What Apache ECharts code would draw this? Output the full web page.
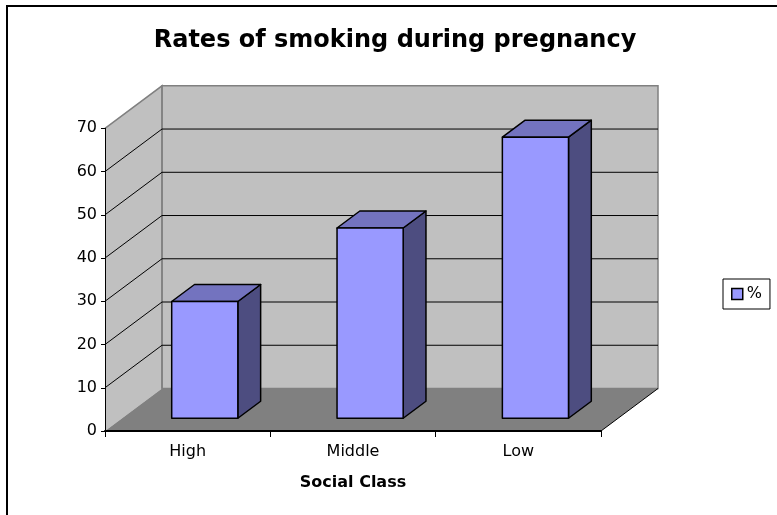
<!DOCTYPE html>
<html>
<head>
<meta charset="utf-8">
<script src="https://cdn.jsdelivr.net/npm/echarts@6/dist/echarts.min.js"></script>
<style>
  body { margin: 0; background: #fff; }
  #chart { width: 777px; height: 515px; }
</style>
</head>
<body>
<div id="chart"></div>
<script>
  // data
  const categories = ['High', 'Middle', 'Low']
  const rates = [27, 44, 65]
  const gridValues = [10, 20, 30, 40, 50, 60, 70]

  // 3d look (oblique projection)
  const DX = 57
  const DY = -42.5
  const FONT = 'DejaVu Sans'

  function renderWalls(params, api) {
    const cs = params.coordSys
    const x0 = cs.x
    const x1 = cs.x + cs.width
    const yb = api.coord([0, 0])[1]
    const yt = api.coord([0, 70])[1]
    const children = [
      {
        type: 'polygon',
        shape: { points: [[x0, yb], [x0, yt], [x0 + DX, yt + DY], [x0 + DX, yb + DY]] },
        style: { fill: '#c0c0c0', stroke: null }
      },
      {
        type: 'polygon',
        shape: { points: [[x0 + DX, yt + DY], [x1 + DX, yt + DY], [x1 + DX, yb + DY], [x0 + DX, yb + DY]] },
        style: { fill: '#c0c0c0', stroke: '#808080', lineWidth: 1.5 }
      },
      {
        type: 'polygon',
        shape: { points: [[x0, yb], [x0 + DX, yb + DY], [x1 + DX, yb + DY], [x1, yb]] },
        style: { fill: '#808080', stroke: null }
      },
      {
        type: 'polyline',
        shape: { points: [[x0, yt], [x0 + DX, yt + DY], [x0 + DX, yb + DY]] },
        style: { fill: null, stroke: '#808080', lineWidth: 1.5 }
      },
      {
        type: 'line',
        shape: { x1: x1, y1: yb, x2: x1 + DX, y2: yb + DY },
        style: { stroke: '#000', lineWidth: 1 }
      }
    ]
    // grid lines across the left wall and the back wall
    gridValues.forEach((v) => {
      if (v === 70) return
      const y = api.coord([0, v])[1]
      children.push({
        type: 'polyline',
        shape: { points: [[x0, y], [x0 + DX, y + DY], [x1 + DX, y + DY]] },
        style: { fill: null, stroke: '#000', lineWidth: 1 }
      })
    })
    return { type: 'group', children: children }
  }

  function renderBar(params, api) {
    const idx = api.value(0)
    const val = api.value(1)
    const base = api.coord([idx, 0])
    const top = api.coord([idx, val])
    const w = api.size([1, 0])[0] * 0.4
    const ox = DX * 0.3
    const oy = DY * 0.3
    const dx = DX * 0.4
    const dy = DY * 0.4
    const xl = base[0] - w / 2 + ox
    const xr = base[0] + w / 2 + ox
    const yb = base[1] + oy
    const yt = top[1] + oy
    const line = { stroke: '#000', lineWidth: 1.5, lineJoin: 'round' }
    return {
      type: 'group',
      children: [
        {
          type: 'polygon',
          shape: { points: [[xr, yb], [xr, yt], [xr + dx, yt + dy], [xr + dx, yb + dy]] },
          style: Object.assign({ fill: '#4d4d80' }, line)
        },
        {
          type: 'polygon',
          shape: { points: [[xl, yt], [xr, yt], [xr + dx, yt + dy], [xl + dx, yt + dy]] },
          style: Object.assign({ fill: '#7373bf' }, line)
        },
        {
          type: 'rect',
          shape: { x: xl, y: yt, width: xr - xl, height: yb - yt },
          style: Object.assign({ fill: '#9999ff' }, line)
        }
      ]
    }
  }

  const chart = echarts.init(document.getElementById('chart'))
  chart.setOption({
    animation: false,
    textStyle: { fontFamily: FONT },
    title: {
      text: 'Rates of smoking during pregnancy',
      left: 390,
      textAlign: 'center',
      top: 24,
      textStyle: { fontFamily: FONT, fontSize: 24, fontWeight: 'bold', color: '#000' }
    },
    graphic: [
      {
        type: 'rect',
        shape: { x: 7, y: 6, width: 820, height: 560 },
        style: { fill: null, stroke: '#000', lineWidth: 2 },
        z: 100
      }
    ],
    legend: {
      data: ['%'],
      left: 723,
      top: 279,
      orient: 'vertical',
      padding: [7, 8],
      borderColor: '#000',
      borderWidth: 1,
      itemWidth: 11,
      itemHeight: 11,
      itemGap: 5,
      icon: 'rect',
      itemStyle: { color: '#9999ff', borderColor: '#000', borderWidth: 1.5 },
      textStyle: { fontFamily: FONT, fontSize: 16, color: '#000', padding: [0, 0, 0, -1] }
    },
    grid: {
      left: 105,
      right: 176,
      top: 128.3,
      bottom: 84
    },
    xAxis: {
      type: 'category',
      data: categories,
      z: 10,
      name: 'Social Class',
      nameLocation: 'middle',
      nameGap: 44,
      nameTextStyle: { fontFamily: FONT, fontSize: 16, fontWeight: 'bold', color: '#000' },
      axisLine: { lineStyle: { color: '#000', width: 2 } },
      axisTick: { show: true, length: 6, lineStyle: { color: '#000' } },
      axisLabel: { fontFamily: FONT, fontSize: 16, color: '#000', margin: 13 },
      splitLine: { show: false }
    },
    yAxis: {
      type: 'value',
      min: 0,
      max: 70,
      interval: 10,
      z: 10,
      axisLine: { show: true, lineStyle: { color: '#000', width: 1 } },
      axisTick: { show: true, length: 4, lineStyle: { color: '#000' } },
      axisLabel: { fontFamily: FONT, fontSize: 16, color: '#000', margin: 8 },
      splitLine: { show: false }
    },
    series: [
      {
        type: 'custom',
        name: 'walls',
        z: 1,
        silent: true,
        renderItem: renderWalls,
        data: [[0, 0]]
      },
      {
        type: 'custom',
        name: '%',
        z: 5,
        itemStyle: { color: '#9999ff' },
        renderItem: renderBar,
        data: rates.map((v, i) => [i, v])
      }
    ]
  })
</script>
</body>
</html>
